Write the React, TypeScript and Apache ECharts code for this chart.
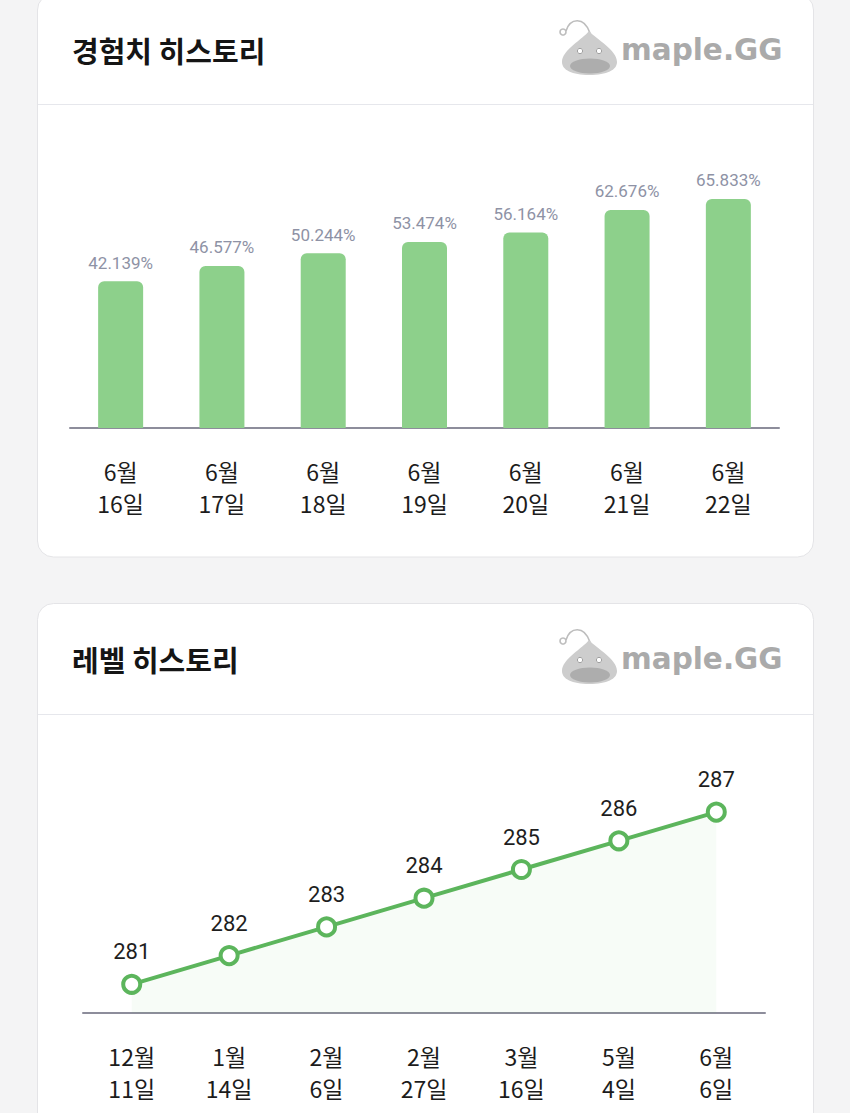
import React, { useEffect, useRef } from "react";
import * as echarts from "echarts";

const titles = ["경험치 히스토리", "레벨 히스토리"];
const expCategories = ["6월\n16일", "6월\n17일", "6월\n18일", "6월\n19일", "6월\n20일", "6월\n21일", "6월\n22일"];
const expValues = [42.139, 46.577, 50.244, 53.474, 56.164, 62.676, 65.833];
const levelCategories = ["12월\n11일", "1월\n14일", "2월\n6일", "2월\n27일", "3월\n16일", "5월\n4일", "6월\n6일"];
const levelValues = [281, 282, 283, 284, 285, 286, 287];
const logoText = "maple.GG";

echarts.graphic.registerShape(
  "slime",
  echarts.graphic.extendPath(
    "M27 0 C 34 8, 55 19, 55 31 C 55 39, 45 44, 27.5 44 C 10 44, 0 39, 0 31 C 0 19, 21 8, 27 0 Z",
    {}
  )
);

const CJK = '"Noto Sans CJK KR", "Noto Sans", sans-serif';

function header(dy: number, title: string, cardTop: number, cardH: number, dividerY: number): any[] {
  return [
    {
      type: "rect",
      z: -10,
      shape: { x: 37.5, y: cardTop, width: 776, height: cardH, r: 16 },
      style: { fill: "#ffffff", stroke: "#e4e4e7", lineWidth: 1 },
    },
    {
      type: "line",
      z: -9,
      shape: { x1: 38, y1: dividerY, x2: 813, y2: dividerY },
      style: { stroke: "#e6e7ec", lineWidth: 1.2 },
    },
    {
      type: "text",
      z: -8,
      x: 72,
      y: 50 + dy,
      style: {
        text: title,
        font: `bold 29px ${CJK}`,
        fill: "#151515",
        align: "left",
        verticalAlign: "middle",
        textAlign: "left",
        textVerticalAlign: "middle",
      },
    },
    {
      type: "group",
      x: 0,
      y: dy,
      z: -8,
      children: [
        {
          type: "bezierCurve",
          shape: { x1: 590, y1: 33, x2: 566, y2: 31, cpx1: 584, cpy1: 16, cpx2: 570, cpy2: 18 },
          style: { stroke: "#bdbdbd", lineWidth: 1.6, fill: null },
        },
        { type: "circle", shape: { cx: 563, cy: 32, r: 3 }, style: { fill: "#ffffff", stroke: "#bdbdbd", lineWidth: 1.6 } },
        { type: "slime", x: 562, y: 31, style: { fill: "#cdcdcd" } },
        { type: "ellipse", shape: { cx: 590, cy: 66, rx: 20, ry: 7.5 }, style: { fill: "#adadad" } },
        { type: "circle", shape: { cx: 580, cy: 51, r: 2.6 }, style: { fill: "#ffffff", stroke: "#a0a0a0", lineWidth: 1 } },
        { type: "circle", shape: { cx: 599, cy: 51, r: 2.6 }, style: { fill: "#ffffff", stroke: "#a0a0a0", lineWidth: 1 } },
        {
          type: "text",
          x: 621,
          y: 50,
          style: {
            text: logoText,
            font: 'bold 29.5px "DejaVu Sans", sans-serif',
            fill: "#aaaaaa",
            align: "left",
            verticalAlign: "middle",
            textAlign: "left",
            textVerticalAlign: "middle",
          },
        },
      ],
    },
  ];
}

export default function App() {
  const ref = useRef<HTMLDivElement>(null);

  useEffect(() => {
    if (!ref.current) return;
    const chart = echarts.init(ref.current, undefined, { renderer: "svg" });
    const axisLabel = {
      fontSize: 23,
      lineHeight: 32,
      margin: 27,
      color: "#1c1c1c",
      fontFamily: CJK,
      interval: 0,
    };
    const option: any = {
      animation: false,
      backgroundColor: "#f4f4f5",
      graphic: [
        ...header(0, titles[0], -6, 563, 104.5),
        ...header(609, titles[1], 603.5, 600, 714.5),
      ],
      grid: [
        { left: 70, right: 71, top: 149.6, bottom: 685 },
        { left: 83, right: 85, top: 726, bottom: 100 },
      ],
      xAxis: [
        {
          type: "category",
          gridIndex: 0,
          data: expCategories,
          boundaryGap: true,
          axisLine: { lineStyle: { color: "#8d8d9b", width: 2 } },
          axisTick: { show: false },
          axisLabel,
        },
        {
          type: "category",
          gridIndex: 1,
          data: levelCategories,
          boundaryGap: true,
          axisLine: { lineStyle: { color: "#8d8d9b", width: 2 } },
          axisTick: { show: false },
          axisLabel,
        },
      ],
      yAxis: [
        { type: "value", gridIndex: 0, min: 0, max: 80, show: false, splitLine: { show: false } },
        { type: "value", gridIndex: 1, min: 280, max: 290, show: false, splitLine: { show: false } },
      ],
      series: [
        {
          type: "bar",
          xAxisIndex: 0,
          yAxisIndex: 0,
          data: expValues,
          barWidth: 45,
          itemStyle: { color: "#8dd08b", borderRadius: [6, 6, 0, 0] },
          label: {
            show: true,
            position: "top",
            distance: 10,
            fontSize: 17,
            color: "#8e92a5",
            fontFamily: 'Roboto, "Noto Sans", sans-serif',
            formatter: (p: any) => `${Number(p.value).toFixed(3)}%`,
          },
        },
        {
          type: "line",
          xAxisIndex: 1,
          yAxisIndex: 1,
          data: levelValues,
          symbol: "circle",
          symbolSize: 17,
          lineStyle: { color: "#5cb55c", width: 4 },
          itemStyle: { color: "#ffffff", borderColor: "#5cb55c", borderWidth: 4 },
          areaStyle: { color: "rgba(92,181,92,0.07)" },
          label: {
            show: true,
            position: "top",
            distance: 11,
            fontSize: 22,
            color: "#1e1e1e",
            fontFamily: 'Roboto, "Noto Sans", sans-serif',
          },
        },
      ],
    };
    chart.setOption(option);
    return () => chart.dispose();
  }, []);

  return (
    <div
      ref={ref}
      style={{ position: "absolute", left: 0, top: 0, width: 850, height: 1113, background: "#f4f4f5" }}
    />
  );
}
